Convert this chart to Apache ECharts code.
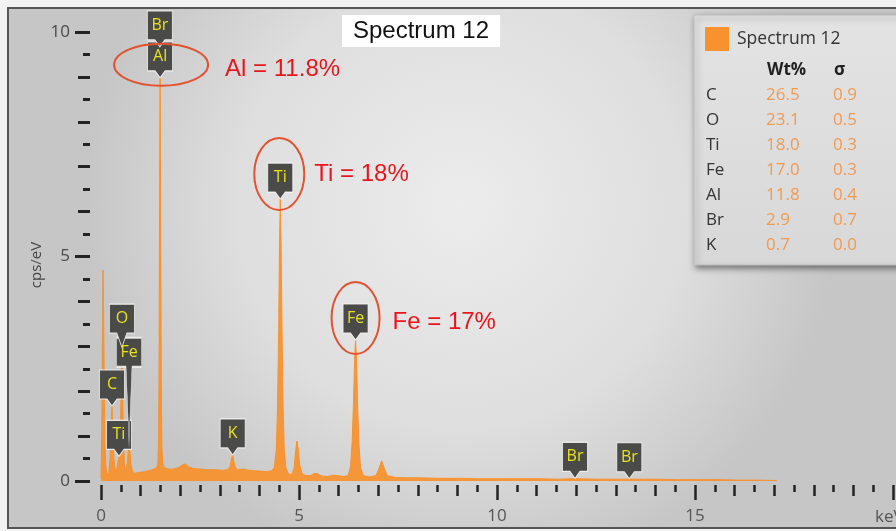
<!DOCTYPE html>
<html>
<head>
<meta charset="utf-8">
<style>
  html, body { margin: 0; padding: 0; background: #f2f2f2; }
  #chart { width: 896px; height: 531px; }
</style>
<script src="https://cdn.jsdelivr.net/npm/echarts@6/dist/echarts.min.js"></script>
</head>
<body>
<div id="chart"></div>
<script>
// EDS spectrum: photon energy (keV) and intensity (cps/eV)
const energyKeV = [
  0.00, 0.02, 0.04, 0.05, 0.06, 0.08, 0.10, 0.13, 0.17, 0.20,
  0.23, 0.255, 0.277, 0.30, 0.325, 0.36, 0.40, 0.43, 0.452, 0.475,
  0.495, 0.51, 0.525, 0.54, 0.56, 0.59, 0.63, 0.67, 0.69, 0.705,
  0.725, 0.75, 0.79, 0.85, 0.95, 1.05, 1.15, 1.25, 1.33, 1.40,
  1.43, 1.445, 1.46, 1.475, 1.487, 1.50, 1.515, 1.53, 1.55, 1.58,
  1.65, 1.74, 1.84, 1.95, 2.05, 2.12, 2.20, 2.32, 2.45, 2.60,
  2.75, 2.90, 3.05, 3.18, 3.25, 3.29, 3.313, 3.34, 3.38, 3.45,
  3.59, 3.70, 3.85, 4.00, 4.15, 4.28, 4.36, 4.41, 4.44, 4.47,
  4.49, 4.51, 4.53, 4.555, 4.58, 4.61, 4.65, 4.72, 4.80, 4.86,
  4.90, 4.93, 4.96, 5.00, 5.06, 5.15, 5.28, 5.37, 5.41, 5.45,
  5.55, 5.70, 5.85, 5.90, 5.95, 6.10, 6.22, 6.28, 6.32, 6.35,
  6.38, 6.404, 6.43, 6.455, 6.49, 6.53, 6.60, 6.75, 6.92, 7.00,
  7.06, 7.12, 7.20, 7.40, 7.70, 8.00, 8.50, 9.00, 9.50, 10.0,
  10.5, 11.0, 11.5, 11.85, 11.92, 12.0, 12.5, 13.0, 13.22, 13.29,
  13.36, 14.0, 14.5, 15.0, 15.5, 16.0, 16.5, 17.0
];
const intensity = [
  0.05, 1.2, 3.6, 4.7, 4.2, 2.4, 0.8, 0.25, 0.12, 0.2,
  0.55, 1.25, 1.67, 1.15, 0.5, 0.22, 0.28, 0.45, 0.53, 0.55,
  1.4, 2.4, 2.98, 2.3, 1.1, 0.35, 0.22, 0.45, 0.75, 0.85,
  0.7, 0.38, 0.22, 0.17, 0.19, 0.2, 0.22, 0.24, 0.27, 0.3,
  0.4, 0.8, 2.3, 6.6, 8.98, 6.4, 2.3, 0.8, 0.4, 0.31,
  0.28, 0.26, 0.27, 0.3, 0.36, 0.38, 0.32, 0.28, 0.27, 0.26,
  0.25, 0.25, 0.24, 0.25, 0.33, 0.52, 0.58, 0.45, 0.3, 0.25,
  0.27, 0.24, 0.23, 0.22, 0.21, 0.22, 0.3, 0.7, 1.6, 3.4,
  5.2, 6.28, 5.3, 3.3, 1.7, 0.7, 0.3, 0.15, 0.14, 0.3,
  0.7, 0.89, 0.72, 0.35, 0.16, 0.12, 0.12, 0.17, 0.2, 0.16,
  0.11, 0.1, 0.13, 0.15, 0.12, 0.1, 0.12, 0.35, 0.9, 1.7,
  2.7, 3.14, 2.7, 1.7, 0.8, 0.3, 0.12, 0.09, 0.12, 0.3,
  0.45, 0.3, 0.12, 0.08, 0.07, 0.07, 0.06, 0.06, 0.05, 0.05,
  0.05, 0.05, 0.04, 0.05, 0.06, 0.05, 0.04, 0.04, 0.04, 0.05,
  0.04, 0.04, 0.03, 0.03, 0.03, 0.02, 0.02, 0.01
];

// Identified lines (element, energy in keV)
const lineNames = ['C', 'Ti', 'Fe', 'O', 'Al', 'Br', 'K', 'Ti', 'Fe', 'Br', 'Br'];
const lineEnergies = [0.277, 0.452, 0.705, 0.525, 1.487, 1.480, 3.313, 4.510, 6.404, 11.924, 13.291];

// Quantification table
const quantElements = ['C', 'O', 'Ti', 'Fe', 'Al', 'Br', 'K'];
const quantWt = [26.5, 23.1, 18.0, 17.0, 11.8, 2.9, 0.7];
const quantSigma = [0.9, 0.5, 0.3, 0.3, 0.4, 0.7, 0.0];

// Peaks highlighted with their weight percent
const highlighted = [
  { el: 'Al', energy: 1.487 },
  { el: 'Ti', energy: 4.510 },
  { el: 'Fe', energy: 6.404 }
];

const seriesName = 'Spectrum 12';
const xTickLabels = [0, 5, 10, 15];
const yTickLabels = [0, 5, 10];

const ORANGE = '#f7922f';
const X_TICK = { color: '#232323', width: 2.5 };
const Y_TICK = { color: '#232323', width: 3 };
const AXIS_FONT = 'Open Sans';

const spectrum = energyKeV.map((e, i) => [e, intensity[i]]);

function peakNear(e) {
  let best = 0;
  energyKeV.forEach((x, i) => { if (Math.abs(x - e) <= 0.03 && intensity[i] > best) best = intensity[i]; });
  return best;
}

// Callout marker: dark box with a pointer whose tip sits on the peak
const BOX_W = 25, BOX_H = 29;
function calloutPath(tail, half) {
  const c = BOX_W / 2;
  return 'path://M0,0 H' + BOX_W + ' V' + BOX_H + ' H' + (c + half) +
         ' L' + c + ',' + (BOX_H + tail) + ' L' + (c - half) + ',' + BOX_H + ' H0 Z';
}
// per-marker layout tweaks for crowded low-energy lines
const calloutLayout = { 2: { tail: 76, half: 3 }, 3: { tail: 14, half: 5 }, 5: { lift: 31 } };

const markers = lineNames.map((name, i) => {
  const lay = calloutLayout[i] || {};
  const tail = lay.tail || 7, half = lay.half || 5, lift = lay.lift || 0;
  return {
    name: name,
    coord: [lineEnergies[i], peakNear(lineEnergies[i])],
    symbol: calloutPath(tail, half),
    symbolSize: [BOX_W, BOX_H + tail],
    symbolKeepAspect: false,
    symbolOffset: [0, -(BOX_H + tail) / 2 - lift],
    label: { formatter: name, offset: [0, -tail / 2] }
  };
});

const chart = echarts.init(document.getElementById('chart'), null, { renderer: 'canvas' });

// Grid 0 holds the spectrum; grids 1 and 2 carry the tick scales set slightly
// apart from the plot (below it and to its left), on the same value ranges.
const X_RANGE = { min: 0, max: 20 };
const Y_RANGE = { min: 0, max: 10 };
const hiddenX = g => Object.assign({ type: 'value', gridIndex: g, show: false }, X_RANGE);
const hiddenY = g => Object.assign({ type: 'value', gridIndex: g, show: false }, Y_RANGE);
const tickX = extra => Object.assign({ type: 'value', gridIndex: 1, position: 'bottom',
  axisLine: { show: false }, splitLine: { show: false } }, X_RANGE, extra);
const tickY = extra => Object.assign({ type: 'value', gridIndex: 2, position: 'left',
  axisLine: { show: false }, splitLine: { show: false } }, Y_RANGE, extra);

chart.setOption({
  backgroundColor: '#f2f2f2',
  animation: false,
  grid: [
    { left: 101, right: -3, top: 32, bottom: 50 },
    { left: 101, right: -3, top: 32, bottom: 46 },
    { left: 90, right: -3, top: 32, bottom: 50 }
  ],
  title: {
    text: 'Spectrum 12', left: 342, top: 15,
    backgroundColor: '#ffffff', padding: [4, 11, 4, 11],
    textStyle: { fontFamily: 'Liberation Sans', fontSize: 24, fontWeight: 'normal', color: '#111' }
  },
  legend: {
    data: [seriesName], left: 700, top: 22, icon: 'rect', itemWidth: 24, itemHeight: 24,
    selectedMode: false, z: 6,
    textStyle: { fontFamily: AXIS_FONT, fontSize: 17.5, color: '#333', padding: [0, 0, 0, 3] }
  },
  xAxis: [
    hiddenX(0),
    tickX({
      interval: 1,
      axisTick: { length: 11, lineStyle: X_TICK },
      minorTick: { show: true, splitNumber: 2, length: 7, lineStyle: X_TICK },
      axisLabel: { show: false }
    }),
    tickX({
      interval: 5,
      axisTick: { length: 15, lineStyle: X_TICK },
      axisLabel: {
        margin: 23, fontFamily: AXIS_FONT, fontSize: 17, color: '#555',
        formatter: v => xTickLabels.indexOf(v) >= 0 ? String(v) : ''
      }
    }),
    hiddenX(2)
  ],
  yAxis: [
    hiddenY(0),
    hiddenY(1),
    tickY({
      interval: 1,
      axisTick: { length: 12, lineStyle: Y_TICK },
      minorTick: { show: true, splitNumber: 2, length: 7, lineStyle: Y_TICK },
      axisLabel: { show: false }
    }),
    tickY({
      interval: 5,
      axisTick: { length: 15, lineStyle: Y_TICK },
      axisLabel: {
        margin: 20, fontFamily: AXIS_FONT, fontSize: 17, color: '#4a4a4a',
        formatter: v => yTickLabels.indexOf(v) >= 0 ? String(v) : ''
      }
    })
  ],
  series: [{
    name: seriesName,
    type: 'line',
    xAxisIndex: 0, yAxisIndex: 0,
    data: spectrum,
    showSymbol: false,
    smooth: false,
    color: ORANGE,
    lineStyle: { color: ORANGE, width: 1 },
    areaStyle: { color: ORANGE, opacity: 0.95 },
    z: 3,
    markPoint: {
      z: 10,
      itemStyle: { color: '#4a4a48', borderColor: 'rgba(250,250,250,0.85)', borderWidth: 1 },
      label: { show: true, position: 'inside', color: '#e8e21c', fontFamily: AXIS_FONT, fontSize: 16 },
      data: markers
    }
  }]
});

// Decorations: frame, quantification panel, highlighted-peak notes
const W = 896;
const graphics = [];

graphics.push({
  type: 'rect', z: -10, silent: true,
  shape: { x: 8, y: 8, width: W + 10, height: 520 },
  style: {
    fill: new echarts.graphic.RadialGradient(0.5, 0.38, 0.72, [
      { offset: 0, color: '#ececec' },
      { offset: 0.6, color: '#dedede' },
      { offset: 1, color: '#c6c6c6' }
    ]),
    stroke: '#555', lineWidth: 2
  }
});

// y-axis unit
graphics.push({ type: 'text', z: 7, silent: true, x: 37, y: 265, rotation: Math.PI / 2,
  style: { text: 'cps/eV', font: '15px "Open Sans"', fill: '#444', align: 'center', verticalAlign: 'middle' } });

// x-axis unit
graphics.push({ type: 'text', z: 7, silent: true, x: 875, y: 517,
  style: { text: 'keV', font: '17px "Open Sans"', fill: '#555', verticalAlign: 'middle' } });

// quantification panel
graphics.push({
  type: 'rect', z: 3, silent: true,
  shape: { x: 694, y: 15, width: 220, height: 250 },
  style: {
    fill: new echarts.graphic.LinearGradient(0, 0, 0, 1, [
      { offset: 0, color: '#e3e3e3' }, { offset: 1, color: '#d8d8d8' }
    ]),
    stroke: '#bdbdbd', lineWidth: 1,
    shadowBlur: 6, shadowOffsetX: 2, shadowOffsetY: 3, shadowColor: 'rgba(0,0,0,0.45)'
  }
});
const tableFont = '17px "Open Sans"';
const headFont = 'bold 17px "Open Sans"';
graphics.push({ type: 'text', z: 7, silent: true, x: 767, y: 70,
  style: { text: 'Wt%', font: headFont, fill: '#222', verticalAlign: 'middle' } });
graphics.push({ type: 'text', z: 7, silent: true, x: 834, y: 70,
  style: { text: 'σ', font: headFont, fill: '#222', verticalAlign: 'middle' } });
quantElements.forEach((el, i) => {
  const y = 95 + i * 25;
  graphics.push({ type: 'text', z: 7, silent: true, x: 706, y: y,
    style: { text: el, font: tableFont, fill: '#333', verticalAlign: 'middle' } });
  graphics.push({ type: 'text', z: 7, silent: true, x: 766, y: y,
    style: { text: quantWt[i].toFixed(1), font: tableFont, fill: '#f29a50', verticalAlign: 'middle' } });
  graphics.push({ type: 'text', z: 7, silent: true, x: 833, y: y,
    style: { text: quantSigma[i].toFixed(1), font: tableFont, fill: '#f29a50', verticalAlign: 'middle' } });
});

// highlighted peaks: ellipse round the marker plus the weight percent
const noteLayout = {
  Al: { ex: 1, ey: -13, rx: 47, ry: 21, tx: 65, ty: -8 },
  Ti: { ex: -1, ey: -25, rx: 25, ry: 36, tx: 34, ty: -25 },
  Fe: { ex: 0, ey: -22, rx: 24, ry: 36, tx: 37, ty: -18 }
};
highlighted.forEach(h => {
  const p = chart.convertToPixel({ xAxisIndex: 0, yAxisIndex: 0 }, [h.energy, peakNear(h.energy)]);
  const lay = noteLayout[h.el];
  const wt = quantWt[quantElements.indexOf(h.el)];
  graphics.push({ type: 'ellipse', z: 12, silent: true,
    shape: { cx: p[0] + lay.ex, cy: p[1] + lay.ey, rx: lay.rx, ry: lay.ry },
    style: { fill: 'none', stroke: '#e2522f', lineWidth: 2 } });
  graphics.push({ type: 'text', z: 12, silent: true, x: p[0] + lay.tx, y: p[1] + lay.ty,
    style: { text: h.el + ' = ' + (+wt) + '%', font: '24px "Liberation Sans"', fill: '#e8161c',
             verticalAlign: 'middle' } });
});

chart.setOption({ graphic: graphics });
</script>
</body>
</html>
